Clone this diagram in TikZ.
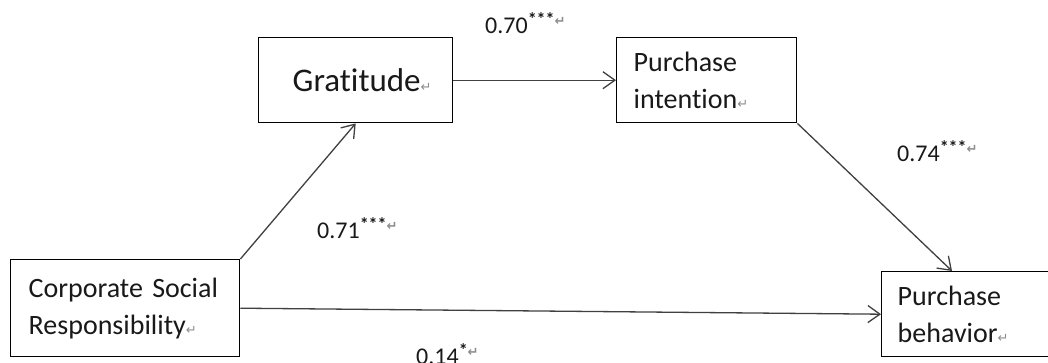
\documentclass[tikz,border=0pt]{standalone}
\usepackage{fontspec}
\setmainfont{Carlito}[Ligatures=CommonOff]
\newfontfamily\symfont{DejaVu Sans}
\usetikzlibrary{arrows.meta,calc}
% small grey paragraph mark after each text
\newcommand\retmark{{\symfont\color{black!45}\fontsize{13}{13}\selectfont ↵}}
% significance stars, raised together with their paragraph mark
\newcommand\sigstars[1]{\raisebox{8pt}{\fontsize{18}{18}\selectfont\bfseries #1\retmark}}
% two-line box text, shifted down a little
\newcommand\twolines[3]{\raisebox{-4pt}{\parbox[c]{#1}{#2\\#3\retmark}}}
\begin{document}
\begin{tikzpicture}[x=1pt,y=-1pt,
  box/.style={draw=black, line width=1.4pt, rectangle, anchor=north west,
    inner ysep=0pt, align=left, text=black!90},
  body/.style={font=\fontsize{28}{37}\selectfont},
  lab/.style={inner sep=0pt, anchor=base west, text=black!90,
    font=\fontsize{24}{24}\selectfont},
  conn/.style={draw=black!75, line width=1.3pt,
    -{Straight Barb[length=12pt,width=17pt,line width=1.3pt]}}]
  \useasboundingbox[fill=white] (0,0) rectangle (1048,363);

  % variables
  \node[box, body, minimum width=229pt, minimum height=97pt,
        inner xsep=18pt, text width=193pt] (csr) at (10,259)
        {Corporate Social\\Responsibility\retmark};
  \node[box, font=\fontsize{33}{38}\selectfont, minimum width=194pt,
        minimum height=85pt, inner xsep=34pt, text width=126pt] (grat) at (258,37)
        {\raisebox{-4pt}{Gratitude\retmark}};
  \node[box, body, minimum width=180pt, minimum height=85pt,
        inner xsep=17pt, text width=146pt] (pi) at (616,37)
        {\twolines{146pt}{Purchase}{intention}};
  \node[box, body, minimum width=180pt, minimum height=85pt,
        inner xsep=16pt, text width=148pt] (pb) at (881,271)
        {\twolines{148pt}{Purchase}{behavior}};

  % path coefficients
  \node[lab] (c70) at (485,34)  {0.70\sigstars{***}};
  \node[lab] (c74) at (897,162) {0.74\sigstars{***}};
  \node[lab] (c71) at (317,238) {0.71\sigstars{***}};
  \node[lab] (c14) at (416,364) {0.14\sigstars{*}};

  % paths
  \draw[conn] (csr.north east) -- (grat.south);
  \draw[conn] (grat.east) -- (pi.west);
  \draw[conn] (pi.south east) -- ($(pb.north west)+(71,0)$);
  \draw[conn] (csr.east) -- (pb.west);
\end{tikzpicture}
\end{document}
